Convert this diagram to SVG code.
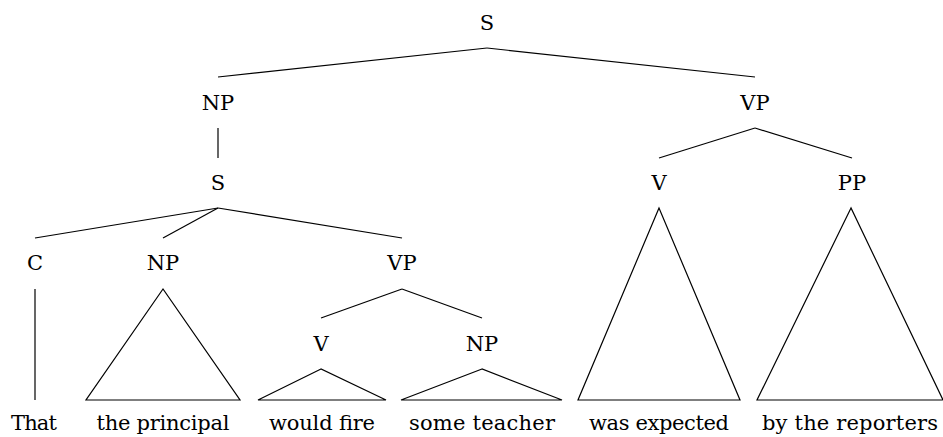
<svg xmlns="http://www.w3.org/2000/svg" width="943" height="437" viewBox="0 0 943 437">
<style>
.c line,.c polygon{stroke:#000;stroke-width:1.2;fill:none}
</style>
<rect width="943" height="437" fill="#fff"/>
<g class="c" id="connectors">
<line x1="487" y1="48" x2="218" y2="77"/>
<line x1="487" y1="48" x2="755" y2="77"/>
<line x1="218" y1="128" x2="218" y2="158"/>
<line x1="218" y1="208" x2="35" y2="238"/>
<line x1="218" y1="208" x2="163" y2="238"/>
<line x1="218" y1="208" x2="402" y2="238"/>
<line x1="35" y1="289" x2="35" y2="400"/>
<polygon points="163,289 86,400 240,400"/>
<line x1="402" y1="289" x2="321" y2="318"/>
<line x1="402" y1="289" x2="482" y2="318"/>
<polygon points="321,369 258,400 386,400"/>
<polygon points="482,369 401,400 562,400"/>
<line x1="755" y1="128" x2="659" y2="158"/>
<line x1="755" y1="128" x2="852" y2="158"/>
<polygon points="659,208 578,400 740,400"/>
<polygon points="851,208 757,400 943,400"/>
</g>
<g font-family="'DejaVu Serif', 'Liberation Serif', serif" font-size="21" fill="#000" text-anchor="middle">
<g id="n-S"><text x="487" y="30">S</text></g>
<g id="n-NP"><text x="218" y="110">NP</text></g>
<g id="n-VP"><text x="755" y="110">VP</text></g>
<g id="n-S2"><text x="218" y="190">S</text></g>
<g id="n-C"><text x="35" y="270">C</text></g>
<g id="n-NP2"><text x="163" y="270">NP</text></g>
<g id="n-VP2"><text x="402" y="270">VP</text></g>
<g id="n-V"><text x="321" y="351">V</text></g>
<g id="n-NP3"><text x="482" y="351">NP</text></g>
<g id="n-V2"><text x="659" y="190">V</text></g>
<g id="n-PP"><text x="852" y="190">PP</text></g>
<g id="w-that"><text x="34" y="430" textLength="46">That</text></g>
<g id="w-principal"><text x="163" y="430" textLength="133">the principal</text></g>
<g id="w-fire"><text x="322" y="430" textLength="106">would fire</text></g>
<g id="w-teacher"><text x="482" y="430" textLength="146">some teacher</text></g>
<g id="w-expected"><text x="659" y="430" textLength="140">was expected</text></g>
<g id="w-reporters"><text x="850" y="430" textLength="176">by the reporters</text></g>
</g>
</svg>
